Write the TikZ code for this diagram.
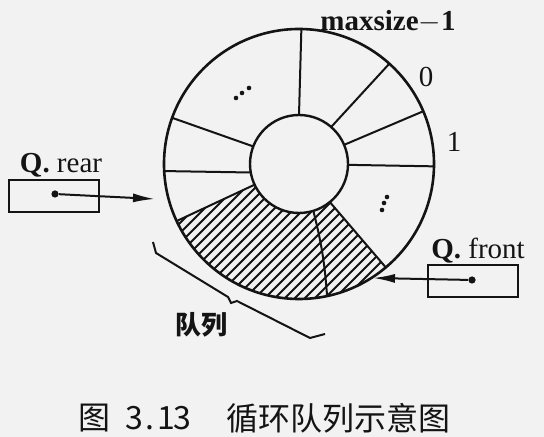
\documentclass[tikz,border=0pt]{standalone}
\usepackage{fontspec}
\setmainfont{Liberation Serif}
\newfontfamily\cjk{Noto Sans CJK SC}
\usetikzlibrary{arrows.meta}

\definecolor{paper}{RGB}{242,242,242}
\definecolor{ink}{RGB}{20,20,20}

\tikzset{
  ptrbox/.style={draw=ink, line width=1pt, minimum width=45pt, minimum height=16pt, inner sep=0pt},
  ptrdot/.style={circle, fill=ink, inner sep=0pt, minimum size=3.6pt},
  ptrarrow/.style={draw=ink, line width=1pt, -{Latex[length=11pt, width=4.5pt]}},
  lbl/.style={font=\fontsize{14.5}{17}\selectfont, text=ink, inner sep=0pt},
}

\begin{document}
\begin{tikzpicture}[x=0.5pt, y=0.5pt]
    \fill[paper] (0, 0) rectangle (544, 437);
    \useasboundingbox (0, 0) rectangle (544, 437);

    \begin{scope}[shift={(299, 273)}, draw=ink]
        % occupied cells
        \begin{scope}
            \clip (205:49) -- (205:135) arc[start angle=205, end angle=310, radius=135]
                -- (310:49) arc[start angle=310, end angle=205, radius=49] -- cycle;
            \foreach \c in {-300,-290,...,300}
                \draw [line width=0.9pt] (\c-150, -150) -- (\c+150, 150);
        \end{scope}
        \draw [line width=1.3pt] (0, 0) circle (135);
        \draw [line width=1.2pt] (0, 0) circle (49);
        \draw [line width=1pt] (90:49) -- (89:135);
        \draw [line width=1pt] (49:49) -- (48:135);
        \draw [line width=1pt] (23:49) -- (23:135);
        \draw [line width=1pt] (-1:49) -- (-1:135);
        \draw [line width=1pt] (-51:49) -- (-50:135);
        \draw [line width=1pt] (-73:49) to[bend left=5] (-78:135);
        \draw [line width=1pt] (205:49) -- (205:135);
        \draw [line width=1pt] (190:49) -- (183:135);
        \draw [line width=1pt] (159:49) -- (160:135);
        \fill[ink] (-63, 66) circle (2.3) (-57, 71) circle (2.3) (-50, 76) circle (2.3);
        \fill[ink] (83, -46) circle (2.3) (85, -39) circle (2.3) (88, -33) circle (2.3);
    \end{scope}

    \node[lbl, font=\fontsize{14.5}{17}\selectfont\bfseries] (maxlbl) at (388, 415) {maxsize$-$1};
    \node[lbl] (zerolbl) at (426, 360) {0};
    \node[lbl] (onelbl) at (454, 295) {1};

    \node[lbl] (rearlbl) at (61, 272) {\textbf{Q.} rear};
    \node[ptrbox] (rearbox) at (54, 241) {};
    \node[ptrdot] (reardot) at (55, 243) {};
    \coordinate (reartip) at (155, 238);
    \draw[ptrarrow] (reardot) -- (reartip);

    \node[lbl] (frontlbl) at (478, 186) {\textbf{Q.} front};
    \node[ptrbox] (frontbox) at (472.5, 156) {};
    \node[ptrdot] (frontdot) at (472, 157) {};
    \coordinate (fronttip) at (373, 159);
    \draw[ptrarrow] (frontdot) -- (fronttip);

    \draw [ink, line width=1pt] (153, 195) -- (156, 184) -- (228, 140) -- (231, 134)
        -- (237, 136) -- (310, 99) -- (325, 103);
    \node[lbl, font=\cjk\bfseries\fontsize{13}{15}\selectfont] (queuelbl) at (201, 112) {队列};

    \node[lbl, font=\cjk\fontsize{16}{18}\selectfont] (fignum) at (134, 19)
        {图\hspace{0.5em}\makebox[0.5em]{3}\makebox[0.5em]{.}\makebox[0.5em]{1}\makebox[0.5em]{3}};
    \node[lbl, font=\cjk\fontsize{16}{18}\selectfont] (figtitle) at (338, 19) {循环队列示意图};
\end{tikzpicture}
\end{document}
